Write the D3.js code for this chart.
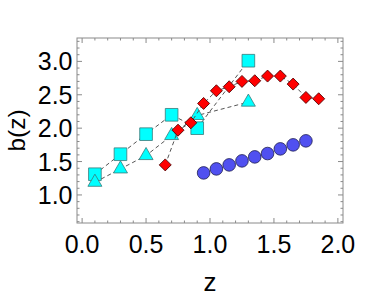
<!DOCTYPE html>
<html>
<head>
<meta charset="utf-8">
<script src="https://cdn.jsdelivr.net/npm/d3@7"></script>
<style>
  body { margin: 0; background: #fff; }
  text { font-family: "Liberation Sans", Arial, sans-serif; fill: #000; }
</style>
</head>
<body>
<svg id="chart" width="382" height="298"></svg>
<script>
var w = 382;
var h = 298;
var margin = {left: 77, right: 39, top: 38, bottom: 75};

// squares (cyan)
var sqZ = [0.1, 0.3, 0.5, 0.7, 0.9, 1.3];
var sqB = [1.31, 1.61, 1.91, 2.20, 2.00, 3.01];
// triangles (cyan)
var triZ = [0.1, 0.3, 0.5, 0.7, 0.9, 1.3];
var triB = [1.19, 1.39, 1.59, 1.89, 2.19, 2.39];
// diamonds (red)
var diaZ = [0.65, 0.75, 0.85, 0.95, 1.05, 1.15, 1.25, 1.35, 1.45, 1.55, 1.65, 1.75, 1.85];
var diaB = [1.45, 1.97, 2.08, 2.37, 2.56, 2.62, 2.70, 2.71, 2.78, 2.78, 2.66, 2.46, 2.44];
// circles (blue)
var cirZ = [0.95, 1.05, 1.15, 1.25, 1.35, 1.45, 1.55, 1.65, 1.75];
var cirB = [1.33, 1.39, 1.45, 1.51, 1.57, 1.62, 1.69, 1.75, 1.81];

var xTicks = [0.0, 0.5, 1.0, 1.5, 2.0];
var yTicks = [1.0, 1.5, 2.0, 2.5, 3.0];

var x = d3.scaleLinear().domain([-0.04, 2.04]).range([margin.left, w - margin.right]);
var y = d3.scaleLinear().domain([0.58, 3.35]).range([h - margin.bottom, margin.top]);

var svg = d3.select("#chart");
var frameColor = "#8a8a8a";

// frame
svg.append("rect")
  .attr("x", x.range()[0]).attr("y", y.range()[1])
  .attr("width", x.range()[1] - x.range()[0])
  .attr("height", y.range()[0] - y.range()[1])
  .style("fill", "none").style("stroke", frameColor).style("stroke-width", 1);

// ticks on all four sides, pointing inward
function minor(lo, hi) {
  var out = [];
  for (var i = Math.ceil(lo * 10); i <= Math.floor(hi * 10); i++) out.push(i / 10);
  return out;
}
var xs = minor(x.domain()[0], x.domain()[1]);
var ys = minor(y.domain()[0], y.domain()[1]);
function isMajor(v) { return Math.abs(v * 2 - Math.round(v * 2)) < 1e-6; }

var ticks = svg.append("g").style("stroke", frameColor).style("stroke-width", 1);
xs.forEach(function(v) {
  var len = isMajor(v) ? 5 : 2.5;
  ticks.append("line").attr("x1", x(v)).attr("x2", x(v))
    .attr("y1", y.range()[0]).attr("y2", y.range()[0] - len);
  ticks.append("line").attr("x1", x(v)).attr("x2", x(v))
    .attr("y1", y.range()[1]).attr("y2", y.range()[1] + len);
});
ys.forEach(function(v) {
  var len = isMajor(v) ? 5 : 2.5;
  ticks.append("line").attr("y1", y(v)).attr("y2", y(v))
    .attr("x1", x.range()[0]).attr("x2", x.range()[0] + len);
  ticks.append("line").attr("y1", y(v)).attr("y2", y(v))
    .attr("x1", x.range()[1]).attr("x2", x.range()[1] - len);
});

// tick labels
svg.selectAll(".xlab").data(xTicks).enter().append("text")
  .attr("class", "xlab")
  .attr("x", function(d) { return x(d); })
  .attr("y", 253)
  .attr("text-anchor", "middle")
  .style("font-size", "25px")
  .text(function(d) { return d3.format(".1f")(d); });

svg.selectAll(".ylab").data(yTicks).enter().append("text")
  .attr("class", "ylab")
  .attr("x", 72.5)
  .attr("y", function(d) { return y(d); })
  .attr("dy", "0.36em")
  .attr("text-anchor", "end")
  .style("font-size", "25px")
  .text(function(d) { return d3.format(".1f")(d); });

// axis titles
svg.append("text")
  .attr("x", (x.range()[0] + x.range()[1]) / 2)
  .attr("y", 291)
  .attr("text-anchor", "middle")
  .style("font-size", "26px")
  .text("z");

svg.append("text")
  .attr("transform", "translate(24.5," + ((y.range()[0] + y.range()[1]) / 2) + ") rotate(-90)")
  .attr("text-anchor", "middle")
  .style("font-size", "24.5px")
  .text("b(z)");

var line = d3.line()
  .x(function(d) { return x(d[0]); })
  .y(function(d) { return y(d[1]); });

function drawSeries(zs, bs, opts) {
  var pts = zs.map(function(z, i) { return [z, bs[i]]; });
  if (opts.line) {
    svg.append("path")
      .datum(pts)
      .attr("d", line)
      .style("fill", "none")
      .style("stroke", "#555")
      .style("stroke-width", 1)
      .style("stroke-dasharray", "4,3");
  }
  svg.selectAll(".m" + opts.name).data(pts).enter().append("path")
    .attr("class", "m" + opts.name)
    .attr("d", d3.symbol().type(opts.type).size(opts.size))
    .attr("transform", function(d) {
      return "translate(" + x(d[0]) + "," + y(d[1]) + ")" + (opts.rotate ? " rotate(45)" : "");
    })
    .style("fill", opts.fill)
    .style("stroke", opts.stroke)
    .style("stroke-width", 0.8);
}

drawSeries(sqZ, sqB, {name: "sq", line: true, type: d3.symbolSquare, size: 160, fill: "#00ffff", stroke: "#3a7a7a"});
drawSeries(triZ, triB, {name: "tri", line: true, type: d3.symbolTriangle, size: 85, fill: "#00ffff", stroke: "#3a7a7a"});
drawSeries(diaZ, diaB, {name: "dia", line: true, type: d3.symbolSquare, size: 72, rotate: true, fill: "#ff0000", stroke: "#4a0000"});
drawSeries(cirZ, cirB, {name: "cir", line: false, type: d3.symbolCircle, size: 125, fill: "#5050f0", stroke: "#202050"});
</script>
</body>
</html>
